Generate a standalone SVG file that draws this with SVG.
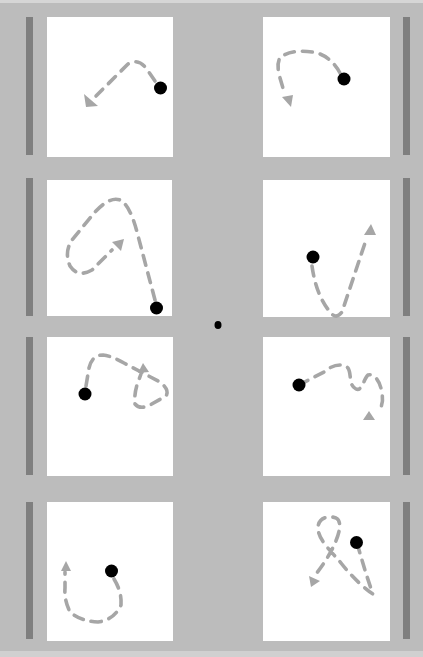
<svg xmlns="http://www.w3.org/2000/svg" width="423" height="657" viewBox="0 0 423 657">
<style>
.bg{fill:#bcbcbc}
.panel{fill:#ffffff}
.bar{fill:#7f7f7f}
.trail{fill:none;stroke:#a6a6a6;stroke-width:3.6;stroke-dasharray:10 8;stroke-linecap:round;stroke-linejoin:round}
.head{fill:#a6a6a6}
.dot{fill:#000000}
</style>
<rect class="bg" x="0" y="0" width="423" height="657"/>
<rect x="0" y="0" width="423" height="3" fill="#d6d6d6"/>
<rect x="0" y="651" width="423" height="6" fill="#d0d0d0"/>
<g id="panel-1">
<rect class="bar" x="26" y="17" width="7" height="138"/>
<rect class="panel" x="47" y="17" width="126" height="140"/>
<path class="trail" d="M155,81 L146,68 Q138,58 128,64 L96,96"/>
<polygon class="head" points="84,94 86,107 98,106"/>
<circle class="dot" cx="160.5" cy="88" r="6.5"/>
</g>
<g id="panel-2">
<rect class="bar" x="403" y="17" width="7" height="138"/>
<rect class="panel" x="263" y="17" width="127" height="140"/>
<path class="trail" d="M340,73 Q330,55 313,52 Q290,49 280,58 Q276,64 280,78 L285,95"/>
<polygon class="head" points="282,97 293,95 291,107"/>
<circle class="dot" cx="344" cy="79" r="6.5"/>
</g>
<g id="panel-3">
<rect class="bar" x="26" y="178" width="7" height="138"/>
<rect class="panel" x="47" y="180" width="125" height="136"/>
<path class="trail" d="M155,300 L137,232 Q130,205 120,200 Q110,196 95,212 L72,240 Q64,252 70,266 Q78,278 92,270 L112,250"/>
<polygon class="head" points="124,239 112,242 121,251"/>
<circle class="dot" cx="156.5" cy="308" r="6.5"/>
</g>
<g id="panel-4">
<rect class="bar" x="403" y="178" width="7" height="138"/>
<rect class="panel" x="263" y="180" width="127" height="137"/>
<path class="trail" d="M312,266 Q316,295 330,312 Q336,320 342,312 L366,240"/>
<polygon class="head" points="371,224 364,235 376,235"/>
<circle class="dot" cx="313" cy="257" r="6.5"/>
</g>
<g id="center-dot">
<ellipse class="dot" cx="218" cy="325" rx="3.5" ry="4"/>
</g>
<g id="panel-5">
<rect class="bar" x="26" y="337" width="7" height="138"/>
<rect class="panel" x="47" y="337" width="126" height="139"/>
<path class="trail" d="M86,386 L89,368 Q92,355 103,355 Q112,356 124,363 L160,382 Q170,390 166,396 L150,405 Q140,410 135,404 Q134,395 137,385 L141,374"/>
<polygon class="head" points="143,363 138,373 149,372"/>
<circle class="dot" cx="85" cy="394" r="6.5"/>
</g>
<g id="panel-6">
<rect class="bar" x="403" y="337" width="7" height="138"/>
<rect class="panel" x="263" y="337" width="127" height="139"/>
<path class="trail" d="M299,385 L324,372 C330,366 342,362 348,368 C352,374 348,385 356,389 C362,392 364,378 368,375 C375,373 381,383 382,394 C384,404 380,410 377,412"/>
<polygon class="head" points="369,411 363,420 375,420"/>
<circle class="dot" cx="299" cy="385" r="6.5"/>
</g>
<g id="panel-7">
<rect class="bar" x="26" y="502" width="7" height="137"/>
<rect class="panel" x="47" y="502" width="126" height="139"/>
<path class="trail" d="M114,579 Q122,592 121,605 Q114,620 98,622 Q80,621 70,612 Q64,600 65,588 L65,572"/>
<polygon class="head" points="66,561 61,571 71,571"/>
<circle class="dot" cx="111.5" cy="571" r="6.5"/>
</g>
<g id="panel-8">
<rect class="bar" x="403" y="502" width="7" height="137"/>
<rect class="panel" x="263" y="502" width="127" height="139"/>
<path class="trail" d="M357,543 C362,560 366,575 373,594 C366,590 352,577 341,563 C332,552 318,540 318,528 C318,518 328,515 336,518 C342,521 340,532 335,543 C330,555 322,566 316,574"/>
<polygon class="head" points="309,576 311,587 320,581"/>
<circle class="dot" cx="356.5" cy="542.5" r="6.5"/>
</g>
</svg>
